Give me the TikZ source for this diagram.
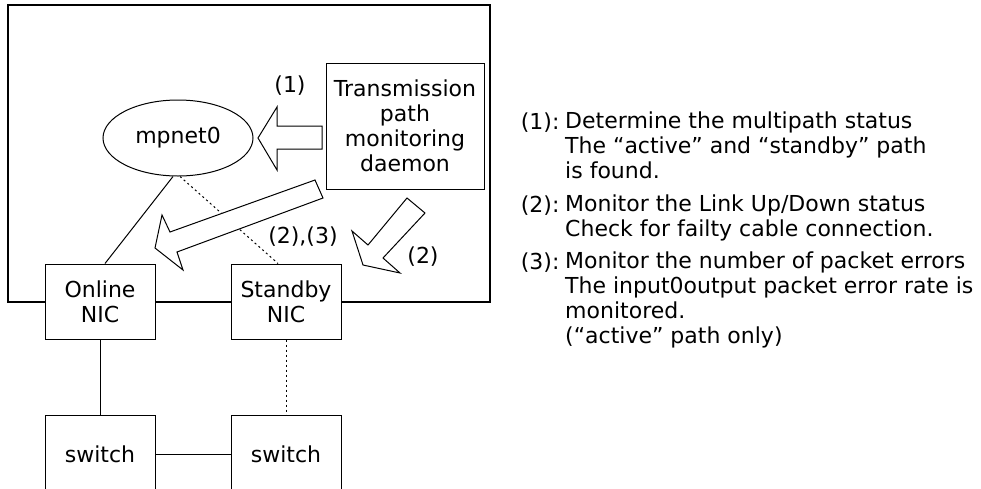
\documentclass[tikz,border=0pt]{standalone}
\usepackage{fontspec}
\setmainfont{DejaVu Sans}
\usetikzlibrary{shapes.geometric, positioning}
\tikzstyle{unit}       = [rectangle, draw=black, fill=white, line width=1pt,
                          align=center, inner sep=0pt]
\tikzstyle{nic}        = [unit, minimum width=110pt, minimum height=75pt]
\tikzstyle{switchbox}  = [unit, minimum width=110pt, minimum height=78pt]
\tikzstyle{blockarrow} = [draw=black, fill=white, line width=1pt, line join=miter]
\tikzstyle{link}       = [line width=1pt]
\tikzstyle{sparelink}  = [line width=1pt, dash pattern=on 2pt off 3pt]
\tikzstyle{note}       = [align=left, inner sep=0pt]

\begin{document}
\begin{tikzpicture}[x=1pt, y=-1pt, every node/.style={font=\fontsize{22}{25}\selectfont}]
  \clip (0,0) rectangle (981,488);
  \draw[line width=2pt] (7.5,5) rectangle (490,302);

  \node (mpnet)   [ellipse, draw, fill=white, line width=1pt, inner sep=0pt,
                   minimum width=150pt, minimum height=76pt] at (178,138) {mpnet0};
  \node (daemon)  [unit, minimum width=158pt, minimum height=126pt] at (405,126)
                  {Transmission\\path\\monitoring\\daemon};
  \node (online)  [nic] at (100,301.5) {Online\\NIC};
  \node (standby) [nic, right=75pt of online] {Standby\\NIC};
  \node (swa)     [switchbox, below=75pt of online]  {switch};
  \node (swb)     [switchbox, below=75pt of standby] {switch};

  \draw[link] ([xshift=-5pt]mpnet.south) -- ([xshift=5pt]online.north);
  \draw[sparelink] ([xshift=2pt]mpnet.south) -- ([xshift=-8pt]standby.north);
  \draw[link] (online) -- (swa);
  \draw[sparelink] (standby) -- (swb);
  \draw[link] (swa) -- (swb);

  \draw[blockarrow] (322,126) -- (277,126) -- (277,107) -- (258,138)
                    -- (277,170) -- (277,149) -- (322,149) -- cycle;
  \draw[blockarrow] (170,232) -- (315,180) -- (323,198) -- (177,252)
                    -- (183,270) -- (155,248) -- (162,215) -- cycle;
  \draw[blockarrow] (407,198) -- (425,213) -- (383,258) -- (400,273)
                    -- (363,265) -- (352,231) -- (368,245) -- cycle;

  \node (l1)  at (290,86)  {(1)};
  \node (l23) at (303,237) {(2),(3)};
  \node (l2)  at (423,257) {(2)};

  \node (k1) [anchor=east] at (563,122.5) {(1):};
  \node (d1) [note, anchor=west] at (565,145)
             {Determine the multipath status\\The “active” and “standby” path\\is found.};
  \node (k2) [anchor=east] at (563,206) {(2):};
  \node (d2) [note, anchor=west] at (565,217.5)
             {Monitor the Link Up/Down status\\Check for failty cable connection.};
  \node (k3) [anchor=east] at (563,262.5) {(3):};
  \node (d3) [note, anchor=west] at (565,300)
             {Monitor the number of packet errors\\The input0output packet error rate is\\monitored.\\(“active” path only)};
\end{tikzpicture}
\end{document}
